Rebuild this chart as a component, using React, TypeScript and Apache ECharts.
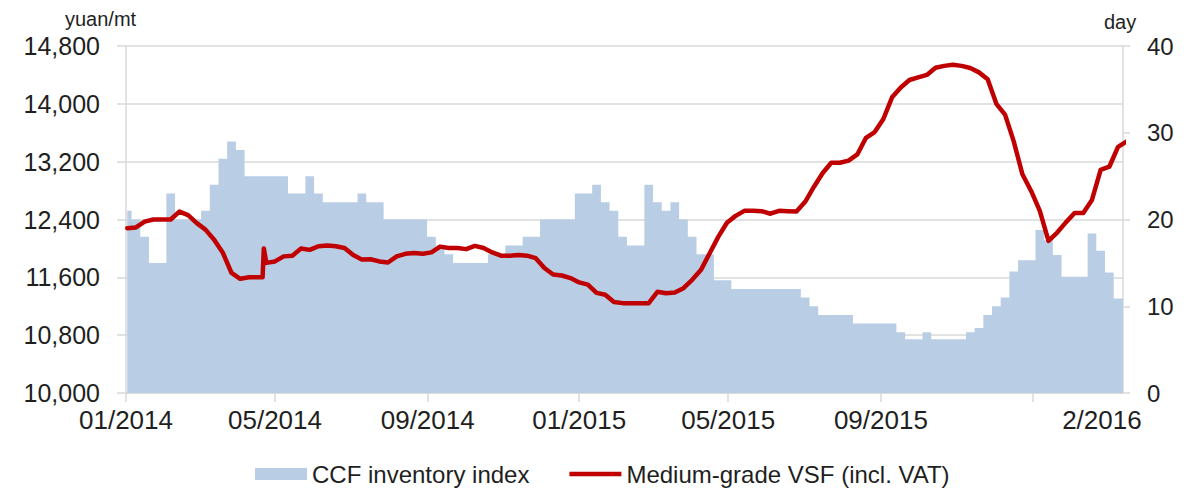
import React, { useEffect, useRef } from "react";
import * as echarts from "echarts";

// Weekly observations, first one on 2 Jan 2014
const FIRST_OBS = "2014-01-02";

// CCF inventory index (days), right axis
const inventoryDays = [
  21, 20, 18, 15, 15, 23, 20, 20, 20, 21,
  24, 27, 29, 28, 25, 25, 25, 25, 25, 23,
  23, 25, 23, 22, 22, 22, 22, 23, 22, 22,
  20, 20, 20, 20, 20, 18, 17, 16, 15, 15,
  15, 15, 16, 16, 17, 17, 18, 18, 20, 20,
  20, 20, 23, 23, 24, 22, 21, 18, 17, 17,
  24, 22, 21, 22, 20, 18, 16, 16, 13, 13,
  12, 12, 12, 12, 12, 12, 12, 12, 11, 10,
  9, 9, 9, 9, 8, 8, 8, 8, 8, 7,
  6.2, 6.2, 7, 6.2, 6.2, 6.2, 6.2, 7, 7.5, 9,
  10, 11, 14, 15.3, 15.3, 18.8, 17.6, 15.9, 13.4, 13.4,
  13.4, 18.4, 16.4, 13.9, 10.9, 10.9,
];

// Medium-grade VSF price (yuan/mt, incl. VAT), left axis
const vsfPrice = [
  12280, 12290, 12370, 12400, 12400, 12400, 12510, 12460, 12350, 12260,
  12120, 11940, 11660, 11580, 11600, 11600, 11800, 11820, 11890, 11900,
  12000, 11980, 12030, 12040, 12030, 12005, 11910, 11845, 11850, 11820,
  11805, 11890, 11925, 11935, 11925, 11945, 12025, 12005, 12005, 11990,
  12035, 12005, 11945, 11900, 11900, 11910, 11900, 11865, 11730, 11640,
  11625, 11590, 11530, 11500, 11385, 11360, 11260, 11243, 11243, 11243,
  11243, 11400, 11380, 11390, 11450, 11565, 11700, 11930, 12160, 12355,
  12450, 12520, 12520, 12515, 12480, 12520, 12515, 12510, 12645, 12850,
  13040, 13185, 13185, 13215, 13300, 13530, 13610, 13790, 14090, 14225,
  14330, 14365, 14400, 14500, 14525, 14540, 14525, 14495, 14435, 14340,
  14000, 13850, 13480, 13025, 12795, 12520, 12105, 12220, 12360, 12490,
  12490, 12670, 13085, 13130, 13405, 13480,
];

// Intra-week jump of the VSF price in April 2014
const vsfSpikeDates = ["2014-04-21", "2014-04-22"];
const vsfSpikeValues = [11600, 12000];

const xStart = "2014-01-01";
const xEnd = "2016-03-14";
const xTickDates = ["2014-01-01", "2014-05-01", "2014-09-01", "2015-01-01", "2015-05-01", "2015-09-01", "2016-01-01"];
const xLabelDates = ["2014-01-01", "2014-05-01", "2014-09-01", "2015-01-01", "2015-05-01", "2015-09-01", "2016-02-26"];
const xLabels = ["01/2014", "05/2014", "09/2014", "01/2015", "05/2015", "09/2015", "2/2016"];

const seriesNames = ["CCF inventory index", "Medium-grade VSF (incl. VAT)"];
const unitLeft = "yuan/mt";
const unitRight = "day";

const FONT = "'Liberation Sans', Arial, Helvetica, sans-serif";
const TEXT = "#1f1f1f";
const GRID = "#d9d9d9";
const DAY_MS = 86400000;

function ts(s: string): number {
  const [y, m, d] = s.split("-").map(Number);
  return Date.UTC(y, m - 1, d);
}
// days since the start of the axis
function dayOf(s: string): number {
  return Math.round((ts(s) - ts(xStart)) / DAY_MS);
}
function weekDay(i: number): number {
  return dayOf(FIRST_OBS) + 7 * i;
}

export default function App() {
  const ref = useRef<HTMLDivElement>(null);

  useEffect(() => {
    if (!ref.current) return;
    const chart = echarts.init(ref.current, null, { renderer: "svg" });

    const invData = inventoryDays.map((v, i) => [weekDay(i), v]);
    const vsfData: number[][] = vsfPrice.map((v, i) => [weekDay(i), v]);
    vsfSpikeDates.forEach((d, i) => vsfData.push([dayOf(d), vsfSpikeValues[i]]));
    vsfData.sort((a, b) => a[0] - b[0]);

    const labelDays = xLabelDates.map(dayOf);
    const fmtX = (v: number) => {
      const i = labelDays.findIndex((d) => Math.abs(d - v) < 1);
      return i >= 0 ? xLabels[i] : "";
    };

    chart.setOption({
      animation: false,
      backgroundColor: "#ffffff",
      grid: { left: 126, right: 71, top: 46, bottom: 96, containLabel: false },
      legend: {
        left: 255,
        top: 462,
        padding: 0,
        itemWidth: 52,
        itemHeight: 12,
        itemGap: 40,
        textStyle: { fontSize: 24, color: TEXT, fontFamily: FONT },
        data: [
          { name: seriesNames[0], icon: "rect", itemStyle: { borderWidth: 0 } },
          {
            name: seriesNames[1],
            icon: "path://M0,0H52V4.5H0Z",
            itemStyle: { color: "#C00000", borderWidth: 0 },
          },
        ],
      },
      xAxis: {
        type: "value",
        min: 0,
        max: dayOf(xEnd),
        axisLine: { show: true, lineStyle: { color: GRID, width: 1.5 } },
        axisTick: {
          show: true,
          length: 9,
          customValues: xTickDates.map(dayOf),
          lineStyle: { color: GRID, width: 1.5 },
        },
        axisLabel: {
          customValues: labelDays,
          formatter: fmtX,
          fontSize: 26,
          color: TEXT,
          fontFamily: FONT,
          margin: 14,
        },
        splitLine: { show: false },
      },
      yAxis: [
        {
          type: "value",
          min: 10000,
          max: 14800,
          interval: 800,
          axisLine: { show: true, lineStyle: { color: GRID, width: 1.5 } },
          axisTick: { show: true, length: 9, lineStyle: { color: GRID, width: 1.5 } },
          axisLabel: {
            fontSize: 25,
            color: TEXT,
            fontFamily: FONT,
            margin: 26,
            formatter: (v: number) => v.toLocaleString("en-US"),
          },
          splitLine: { show: true, lineStyle: { color: GRID, width: 1.5 } },
        },
        {
          type: "value",
          min: 0,
          max: 40,
          interval: 10,
          position: "right",
          axisLine: { show: true, lineStyle: { color: GRID, width: 1.5 } },
          axisTick: { show: true, length: 7, lineStyle: { color: GRID, width: 1.5 } },
          axisLabel: { fontSize: 24, color: TEXT, fontFamily: FONT, margin: 24 },
          splitLine: { show: false },
        },
      ],
      graphic: [
        {
          type: "text",
          left: 65,
          top: 9,
          style: { text: unitLeft, fontSize: 20, fill: TEXT, fontFamily: FONT },
        },
        {
          type: "text",
          left: 1104,
          top: 12,
          style: { text: unitRight, fontSize: 20, fill: TEXT, fontFamily: FONT },
        },
      ],
      series: [
        {
          name: seriesNames[0],
          type: "line",
          yAxisIndex: 1,
          step: "middle",
          symbol: "none",
          data: invData,
          lineStyle: { width: 0, color: "#B9CDE5" },
          itemStyle: { color: "#B9CDE5" },
          areaStyle: { color: "#B9CDE5", opacity: 1 },
          z: 2,
        },
        {
          name: seriesNames[1],
          type: "line",
          yAxisIndex: 0,
          symbol: "none",
          data: vsfData,
          lineStyle: { width: 4.5, color: "#C00000", join: "round", cap: "round" },
          itemStyle: { color: "#C00000" },
          z: 3,
        },
      ],
    });

    return () => chart.dispose();
  }, []);

  return (
    <div
      ref={ref}
      style={{ position: "fixed", left: 0, top: 0, width: 1194, height: 489, background: "#fff" }}
    />
  );
}
